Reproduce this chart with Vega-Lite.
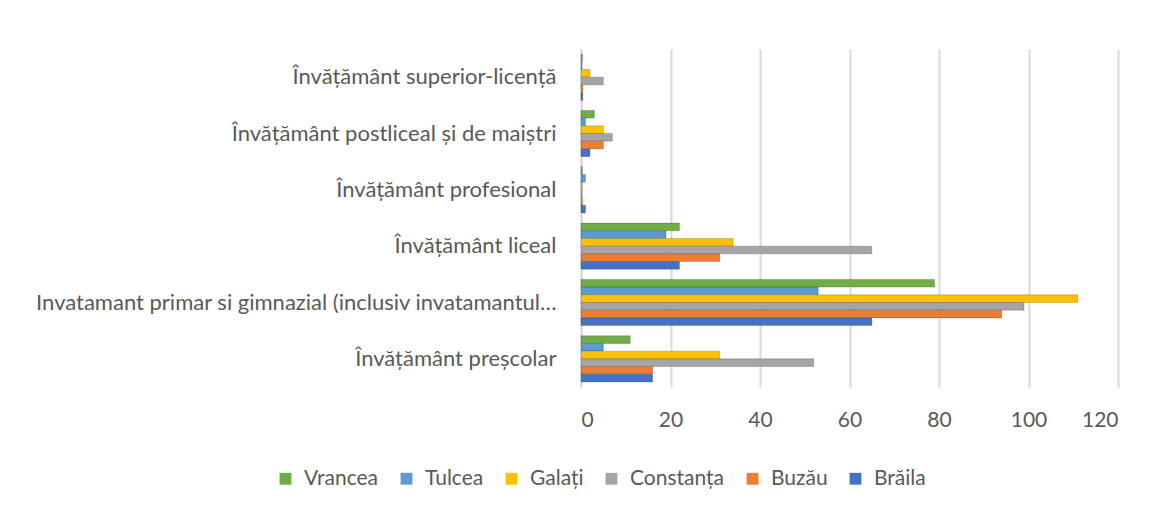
{
  "$schema": "https://vega.github.io/schema/vega-lite/v6.json",
  "autosize": {"type": "none"},
  "width": 537,
  "height": 338,
  "padding": {"left": 581, "top": 49, "right": 50, "bottom": 120},
  "background": "white",
  "config": {
    "font": "Lato",
    "view": {"stroke": null},
    "axis": {"labelFont": "Lato", "labelColor": "#595959"}
  },
  "data": {
    "values": [
      {"cat": "Învățământ superior-licență", "judet": "Vrancea", "v": 0.3},
      {"cat": "Învățământ superior-licență", "judet": "Tulcea", "v": 0.2},
      {"cat": "Învățământ superior-licență", "judet": "Galați", "v": 2},
      {"cat": "Învățământ superior-licență", "judet": "Constanța", "v": 5},
      {"cat": "Învățământ superior-licență", "judet": "Buzău", "v": 0.4},
      {"cat": "Învățământ superior-licență", "judet": "Brăila", "v": 0.4},
      {"cat": "Învățământ postliceal și de maiștri", "judet": "Vrancea", "v": 3},
      {"cat": "Învățământ postliceal și de maiștri", "judet": "Tulcea", "v": 1},
      {"cat": "Învățământ postliceal și de maiștri", "judet": "Galați", "v": 5},
      {"cat": "Învățământ postliceal și de maiștri", "judet": "Constanța", "v": 7},
      {"cat": "Învățământ postliceal și de maiștri", "judet": "Buzău", "v": 5},
      {"cat": "Învățământ postliceal și de maiștri", "judet": "Brăila", "v": 2},
      {"cat": "Învățământ profesional", "judet": "Vrancea", "v": 0.3},
      {"cat": "Învățământ profesional", "judet": "Tulcea", "v": 1},
      {"cat": "Învățământ profesional", "judet": "Galați", "v": 0.3},
      {"cat": "Învățământ profesional", "judet": "Constanța", "v": 0.2},
      {"cat": "Învățământ profesional", "judet": "Buzău", "v": 0.3},
      {"cat": "Învățământ profesional", "judet": "Brăila", "v": 1},
      {"cat": "Învățământ liceal", "judet": "Vrancea", "v": 22},
      {"cat": "Învățământ liceal", "judet": "Tulcea", "v": 19},
      {"cat": "Învățământ liceal", "judet": "Galați", "v": 34},
      {"cat": "Învățământ liceal", "judet": "Constanța", "v": 65},
      {"cat": "Învățământ liceal", "judet": "Buzău", "v": 31},
      {"cat": "Învățământ liceal", "judet": "Brăila", "v": 22},
      {"cat": "Invatamant primar si gimnazial (inclusiv invatamantul special)", "judet": "Vrancea", "v": 79},
      {"cat": "Invatamant primar si gimnazial (inclusiv invatamantul special)", "judet": "Tulcea", "v": 53},
      {"cat": "Invatamant primar si gimnazial (inclusiv invatamantul special)", "judet": "Galați", "v": 111},
      {"cat": "Invatamant primar si gimnazial (inclusiv invatamantul special)", "judet": "Constanța", "v": 99},
      {"cat": "Invatamant primar si gimnazial (inclusiv invatamantul special)", "judet": "Buzău", "v": 94},
      {"cat": "Invatamant primar si gimnazial (inclusiv invatamantul special)", "judet": "Brăila", "v": 65},
      {"cat": "Învățământ preșcolar", "judet": "Vrancea", "v": 11},
      {"cat": "Învățământ preșcolar", "judet": "Tulcea", "v": 5},
      {"cat": "Învățământ preșcolar", "judet": "Galați", "v": 31},
      {"cat": "Învățământ preșcolar", "judet": "Constanța", "v": 52},
      {"cat": "Învățământ preșcolar", "judet": "Buzău", "v": 16},
      {"cat": "Învățământ preșcolar", "judet": "Brăila", "v": 16}
    ]
  },
  "mark": {"type": "bar", "stroke": "#000000", "strokeOpacity": 0.18, "strokeWidth": 1},
  "encoding": {
    "y": {
      "field": "cat",
      "type": "nominal",
      "sort": [
        "Învățământ superior-licență",
        "Învățământ postliceal și de maiștri",
        "Învățământ profesional",
        "Învățământ liceal",
        "Invatamant primar si gimnazial (inclusiv invatamantul special)",
        "Învățământ preșcolar"
      ],
      "scale": {"paddingInner": 0.18, "paddingOuter": 0.09},
      "axis": {
        "title": null,
        "ticks": false,
        "labelFontSize": 22,
        "labelPadding": 25,
        "labelLimit": 527,
        "domain": true,
        "domainColor": "#D9D9D9",
        "domainWidth": 2
      }
    },
    "yOffset": {
      "field": "judet",
      "type": "nominal",
      "sort": ["Vrancea", "Tulcea", "Galați", "Constanța", "Buzău", "Brăila"],
      "scale": {"paddingInner": 0, "paddingOuter": 0}
    },
    "x": {
      "field": "v",
      "type": "quantitative",
      "scale": {"domain": [0, 120], "nice": false},
      "axis": {
        "title": null,
        "values": [0, 20, 40, 60, 80, 100, 120],
        "grid": true,
        "gridColor": "#D9D9D9",
        "gridWidth": 2,
        "domain": false,
        "ticks": false,
        "labelFontSize": 21,
        "labelPadding": 22
      }
    },
    "color": {
      "field": "judet",
      "type": "nominal",
      "sort": ["Vrancea", "Tulcea", "Galați", "Constanța", "Buzău", "Brăila"],
      "scale": {
        "domain": ["Vrancea", "Tulcea", "Galați", "Constanța", "Buzău", "Brăila"],
        "range": ["#70AD47", "#5B9BD5", "#FFC000", "#A5A5A5", "#ED7D31", "#4472C4"]
      },
      "legend": {
        "title": null,
        "orient": "none",
        "direction": "horizontal",
        "legendX": -306,
        "legendY": 419,
        "symbolType": "square",
        "symbolSize": 140,
        "symbolStrokeWidth": 0,
        "symbolOpacity": 1,
        "labelFont": "Lato",
        "labelFontSize": 21,
        "labelColor": "#595959",
        "labelOffset": 8,
        "columnPadding": 17
      }
    }
  }
}
